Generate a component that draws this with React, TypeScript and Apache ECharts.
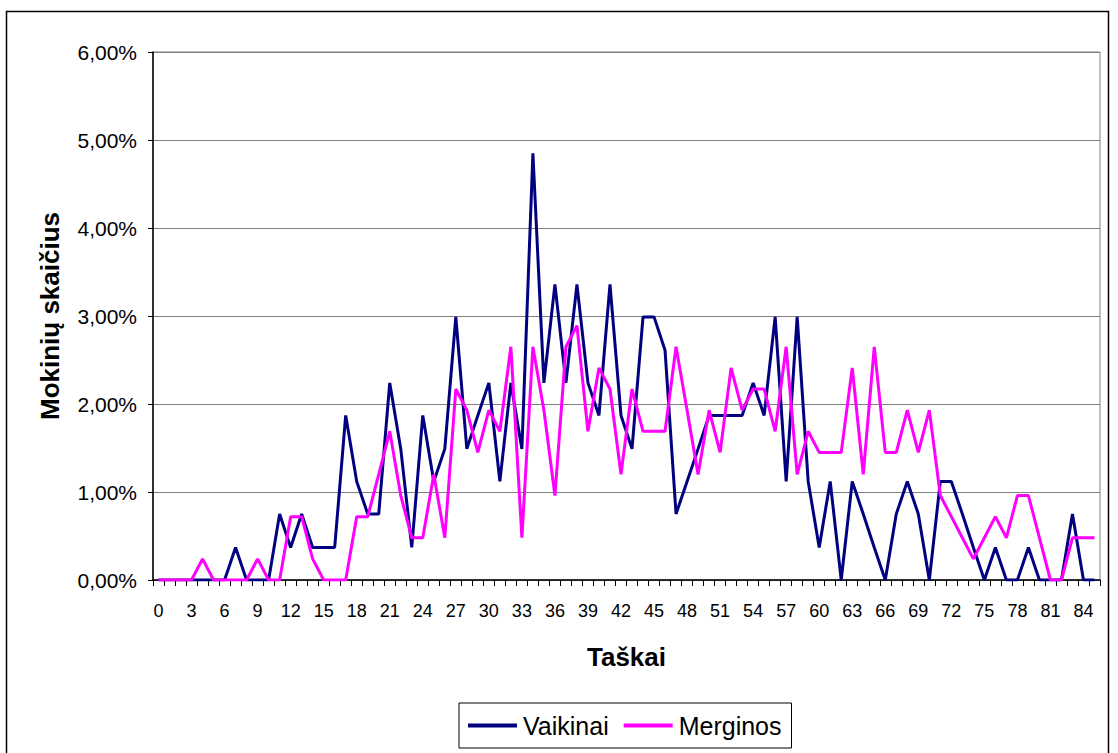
import React, { useEffect, useRef } from "react";
import * as echarts from "echarts";

const categories = [
  "0","1","2","3","4","5","6","7","8","9",
  "10","11","12","13","14","15","16","17","18","19",
  "20","21","22","23","24","25","26","27","28","29",
  "30","31","32","33","34","35","36","37","38","39",
  "40","41","42","43","44","45","46","47","48","49",
  "50","51","52","53","54","55","56","57","58","59",
  "60","61","62","63","64","65","66","67","68","69",
  "70","71","72","73","74","75","76","77","78","79",
  "80","81","82","83","84","85",
];

const vaikinai = [
  0, 0, 0, 0, 0, 0, 0, 0.37, 0, 0,
  0, 0.75, 0.37, 0.75, 0.37, 0.37, 0.37, 1.87, 1.12, 0.75,
  0.75, 2.24, 1.49, 0.37, 1.87, 1.12, 1.49, 2.99, 1.49, 1.87,
  2.24, 1.12, 2.24, 1.49, 4.85, 2.24, 3.36, 2.24, 3.36, 2.24,
  1.87, 3.36, 1.87, 1.49, 2.99, 2.99, 2.61, 0.75, 1.12, 1.49,
  1.87, 1.87, 1.87, 1.87, 2.24, 1.87, 2.99, 1.12, 2.99, 1.12,
  0.37, 1.12, 0, 1.12, 0.75, 0.37, 0, 0.75, 1.12, 0.75,
  0, 1.12, 1.12, 0.75, 0.37, 0, 0.37, 0, 0, 0.37,
  0, 0, 0, 0.75, 0, 0,
];

const merginos = [
  0, 0, 0, 0, 0.24, 0, 0, 0, 0, 0.24,
  0, 0, 0.72, 0.72, 0.24, 0, 0, 0, 0.72, 0.72,
  1.2, 1.69, 0.96, 0.48, 0.48, 1.2, 0.48, 2.17, 1.93, 1.45,
  1.93, 1.69, 2.65, 0.48, 2.65, 1.93, 0.96, 2.65, 2.89, 1.69,
  2.41, 2.17, 1.2, 2.17, 1.69, 1.69, 1.69, 2.65, 1.93, 1.2,
  1.93, 1.45, 2.41, 1.93, 2.17, 2.17, 1.69, 2.65, 1.2, 1.69,
  1.45, 1.45, 1.45, 2.41, 1.2, 2.65, 1.45, 1.45, 1.93, 1.45,
  1.93, 0.96, 0.72, 0.48, 0.24, 0.48, 0.72, 0.48, 0.96, 0.96,
  0.48, 0, 0, 0.48, 0.48, 0.48,
];

const seriesNames = ["Vaikinai", "Merginos"];
const xTitle = "Taškai";
const yTitle = "Mokinių skaičius";

const FONT = "'Liberation Sans', Arial, sans-serif";

export default function App() {
  const ref = useRef<HTMLDivElement>(null);

  useEffect(() => {
    if (!ref.current) return;
    const chart = echarts.init(ref.current, null, { renderer: "svg" });
    chart.setOption({
      animation: false,
      backgroundColor: "#ffffff",
      textStyle: { fontFamily: FONT },
      graphic: [
        {
          type: "rect",
          shape: { x: 6.5, y: 11.5, width: 1102, height: 800 },
          style: { fill: "none", stroke: "#000", lineWidth: 1.5 },
          silent: true,
          z: 0,
        },
      ],
      grid: {
        left: 153,
        top: 52,
        right: 18,
        bottom: 173,
        show: true,
        borderColor: "#808080",
        borderWidth: 1,
        backgroundColor: "transparent",
      },
      legend: {
        data: seriesNames,
        left: 459,
        top: 703,
        orient: "horizontal",
        borderColor: "#000",
        borderWidth: 1,
        padding: [10, 10, 10, 9],
        itemGap: 15,
        itemWidth: 49,
        itemHeight: 4,
        icon: "rect",
        textStyle: { fontSize: 25, color: "#000", fontFamily: FONT, padding: [0, 0, 0, 1] },
      },
      xAxis: {
        type: "category",
        data: categories,
        boundaryGap: true,
        name: xTitle,
        nameLocation: "middle",
        nameGap: 64,
        nameTextStyle: {
          fontSize: 26,
          fontWeight: "bold",
          color: "#000",
          fontFamily: FONT,
        },
        axisLine: { show: true, lineStyle: { color: "#000", width: 1.5 } },
        axisTick: {
          show: true,
          interval: 0,
          length: 6,
          alignWithLabel: false,
          lineStyle: { color: "#000" },
        },
        axisLabel: {
          interval: 2,
          fontSize: 18,
          color: "#000",
          margin: 22,
          fontFamily: FONT,
        },
        splitLine: { show: false },
      },
      yAxis: {
        type: "value",
        min: 0,
        max: 6,
        interval: 1,
        name: yTitle,
        nameLocation: "middle",
        nameRotate: 90,
        nameGap: 90,
        nameTextStyle: {
          fontSize: 26,
          fontWeight: "bold",
          color: "#000",
          fontFamily: FONT,
        },
        axisLine: { show: true, lineStyle: { color: "#000", width: 1.5 } },
        axisTick: { show: true, length: 5, lineStyle: { color: "#000" } },
        axisLabel: {
          fontSize: 21,
          color: "#000",
          margin: 16,
          fontFamily: FONT,
          formatter: (v: number) => v.toFixed(2).replace(".", ",") + "%",
        },
        splitLine: { show: true, lineStyle: { color: "#808080", width: 1 } },
      },
      series: [
        {
          name: seriesNames[0],
          type: "line",
          data: vaikinai,
          showSymbol: false,
          symbol: "none",
          color: "#000080",
          lineStyle: { color: "#000080", width: 3 },
        },
        {
          name: seriesNames[1],
          type: "line",
          data: merginos,
          showSymbol: false,
          symbol: "none",
          color: "#FF00FF",
          lineStyle: { color: "#FF00FF", width: 3 },
        },
      ],
    });
    return () => chart.dispose();
  }, []);

  return (
    <div
      ref={ref}
      style={{ position: "absolute", left: 0, top: 0, width: 1118, height: 753 }}
    />
  );
}
